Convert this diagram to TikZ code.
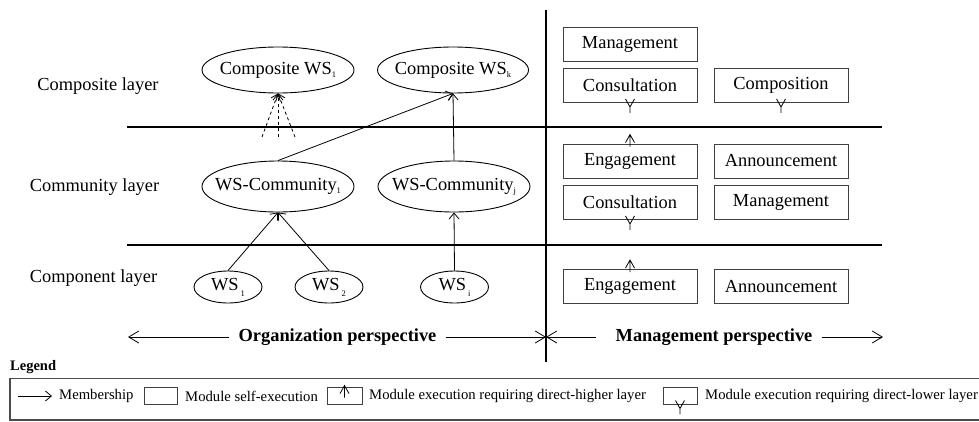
\documentclass[tikz,border=0pt]{standalone}
\usepackage{fontspec}
\setmainfont{Liberation Serif}
\usetikzlibrary{shapes.geometric,arrows.meta}
\newcommand{\mysub}[1]{\raisebox{-0.35ex}{\fontsize{8.5}{9}\selectfont #1}}
\newcommand{\mysubl}[1]{\hspace{2pt}\raisebox{-0.7ex}{\fontsize{8.5}{9}\selectfont #1}}
\begin{document}
\begin{tikzpicture}[x=1pt,y=-1pt,
  big/.style={font=\fontsize{18.4}{22}\selectfont},
  lbl/.style={big, inner sep=0},
  ell/.style={ellipse, draw, inner sep=0, line width=0.9pt, big},
  modbox/.style={draw=black!75, line width=0.9pt, minimum width=134pt, minimum height=34pt, inner sep=0, big},
  layerline/.style={line width=1.8pt},
  mem/.style={line width=0.8pt, -{Straight Barb[length=6pt,width=10pt]}},
  persp/.style={line width=0.8pt, -{Straight Barb[length=10pt,width=12pt]}},
  legtxt/.style={font=\fontsize{14.7}{17}\selectfont, inner sep=0},
  downmark/.pic={\draw[line width=0.8pt] (-4.5,-4) -- (0,4) -- (4.5,-4) (0,4) -- (0,10);},
  upmark/.pic={\draw[line width=0.8pt] (-4.5,-1) -- (0,-9) -- (4.5,-1) (0,-9) -- (0,3);}
]
\useasboundingbox (0,0) rectangle (979,421);

% layer lines
\coordinate (hl1a) at (127,127); \coordinate (hl1b) at (882,127);
\coordinate (hl2a) at (127,245); \coordinate (hl2b) at (882,245);
\coordinate (vla) at (546,10);   \coordinate (vlb) at (546,362);
\draw[layerline] (hl1a) -- (hl1b);
\draw[layerline] (hl2a) -- (hl2b);
\draw[layerline] (vla) -- (vlb);

% layer labels
\node[lbl] (lcomp) at (98,86) {Composite layer};
\node[lbl] (lcomm) at (94.5,187) {Community layer};
\node[lbl] (lcomn) at (93.5,278) {Component layer};

% ellipses
\node[ell, minimum width=152pt, minimum height=46pt] (cws1) at (278,70) {\makebox[0pt]{Composite WS\mysub{1}}};
\node[ell, minimum width=151pt, minimum height=46pt] (cwsk) at (453,70) {\makebox[0pt]{Composite WS\mysub{k}}};
\node[ell, minimum width=152pt, minimum height=51pt] (wsc1) at (278,186.5) {\makebox[0pt]{WS-Community\mysub{1}}};
\node[ell, minimum width=152pt, minimum height=51pt] (wscj) at (454,186.5) {\makebox[0pt]{WS-Community\mysub{j}}};
\node[ell, minimum width=68pt, minimum height=32pt] (ws1) at (228,287) {\makebox[0pt]{WS\mysubl{1}}};
\node[ell, minimum width=68pt, minimum height=32pt] (ws2) at (329,287) {\makebox[0pt]{WS\mysubl{2}}};
\node[ell, minimum width=68pt, minimum height=32pt] (wsi) at (454.5,287) {\makebox[0pt]{WS\mysubl{i}}};

% membership arrows
\draw[mem] (ws1.north) -- (wsc1.south);
\draw[mem] (ws2.north) -- (wsc1.south);
\draw[mem] (wsi.north) -- (wscj.south);
\draw[mem] (wscj.north) -- (cwsk.south);
\draw[mem] (wsc1.north) -- (cwsk.south);
\coordinate (d1) at (262,137); \coordinate (d2) at (278,137); \coordinate (d3) at (295,137);
\draw[mem, dashed] (d1) -- (cws1.south);
\draw[mem, dashed] (d2) -- (cws1.south);
\draw[mem, dashed] (d3) -- (cws1.south);

% module boxes
\node[modbox] (m1) at (630,44) {Management};
\node[modbox] (c1) at (630,85.5) {Consultation};
\node[modbox] (p1) at (781,85.5) {Composition};
\node[modbox] (e2) at (630,161) {Engagement};
\node[modbox] (a2) at (781,161) {Announcement};
\node[modbox] (c2) at (630,202.5) {Consultation};
\node[modbox] (m2) at (781,202.5) {Management};
\node[modbox] (e3) at (630,286.5) {Engagement};
\node[modbox] (a3) at (781,286.5) {Announcement};

\pic at (c1.south) {downmark};
\pic at (p1.south) {downmark};
\pic at (c2.south) {downmark};
\pic at (e2.north) {upmark};
\pic at (e3.north) {upmark};

% perspectives
\node[lbl, font=\fontsize{18.4}{22}\selectfont\bfseries] (orgp) at (337.5,337) {Organization perspective};
\node[lbl, font=\fontsize{18.4}{22}\selectfont\bfseries] (manp) at (714,337) {Management perspective};
\coordinate (pl) at (128,337); \coordinate (pm) at (546,337); \coordinate (pr) at (883,337);
\draw[persp] ([xshift=-9pt]orgp.west) -- (pl);
\draw[persp] ([xshift=9pt]orgp.east) -- (pm);
\draw[persp] ([xshift=-19pt]manp.west) -- (pm);
\draw[persp] ([xshift=9pt]manp.east) -- (pr);

% legend
\node[legtxt, font=\fontsize{14.5}{17}\selectfont\bfseries, anchor=west] (legt) at (10,367) {Legend};
\draw[draw=black!70, line width=1.2pt] (10,378.5) rectangle (990,420);
\coordinate (la) at (18,396); \coordinate (lb) at (52,396);
\draw[mem] (la) -- (lb);
\node[legtxt, anchor=west] (lmem) at (59,396) {Membership};
\node[draw=black!75, line width=0.9pt, minimum width=33pt, minimum height=17pt, inner sep=0] (lb1) at (160.5,395.5) {};
\node[legtxt, anchor=west] (lself) at (185,396) {Module self-execution};
\node[draw=black!75, line width=0.9pt, minimum width=35pt, minimum height=17pt, inner sep=0] (lb2) at (344.5,395.5) {};
\pic at ([yshift=-8pt]lb2.north) {upmark};
\node[legtxt, anchor=west] (lhigh) at (369,396) {Module execution requiring direct-higher layer};
\node[draw=black!75, line width=0.9pt, minimum width=34pt, minimum height=17pt, inner sep=0] (lb3) at (680,395.5) {};
\pic at (lb3.south) {downmark};
\node[legtxt, anchor=west] (llow) at (705,396) {Module execution requiring direct-lower layer};
\end{tikzpicture}
\end{document}
